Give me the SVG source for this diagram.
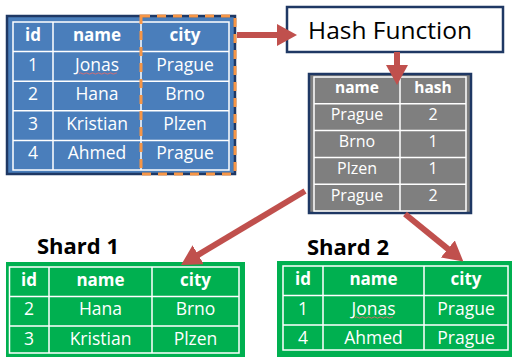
<svg xmlns="http://www.w3.org/2000/svg" width="512" height="358" viewBox="0 0 512 358">
  <defs>
    <marker id="arrowhead" markerUnits="userSpaceOnUse" markerWidth="20" markerHeight="22" refX="2" refY="11" orient="auto">
      <path d="M0,0 L20,11 L0,22 z" fill="#c0504d"/>
    </marker>
    <style>
      .grid { fill: none; stroke: #ffffff; stroke-width: 1.5; }
      .cell { font-family: "Open Sans", "Liberation Sans", sans-serif; font-size: 17.5px; fill: #ffffff; text-anchor: middle; }
      .head { font-family: "Open Sans", "Liberation Sans", sans-serif; font-size: 17px; font-weight: bold; fill: #ffffff; text-anchor: middle; }
      .small { font-size: 16px; }
      .smallhead { font-size: 15.5px; }
      .label { font-family: "Open Sans", "Liberation Sans", sans-serif; font-size: 22px; font-weight: bold; fill: #000000; }
      .squiggle { fill: none; stroke: #e06c6c; stroke-width: 0.9; }
      .link { stroke: #c0504d; stroke-width: 6; fill: none; marker-end: url(#arrowhead); }
    </style>
  </defs>

  <rect width="512" height="358" fill="#ffffff"/>

  <!-- source table: id / name / city -->
  <g id="source-table">
    <rect x="7" y="16" width="228" height="158" fill="#4a7ebb" stroke="#1f3864" stroke-width="2.5"/>
    <rect class="grid" x="13" y="22" width="216" height="148"/>
    <path class="grid" d="M53,22 V170 M141,22 V170 M13,51.6 H229 M13,81.2 H229 M13,110.8 H229 M13,140.4 H229"/>
    <!-- highlighted city column -->
    <rect x="141" y="16" width="94" height="158" fill="none" stroke="#f79646" stroke-width="3" stroke-dasharray="9 7"/>
    <text class="head" x="33" y="41">id</text>
    <text class="head" x="97" y="41">name</text>
    <text class="head" x="185" y="41">city</text>
    <text class="cell" x="33" y="70.6">1</text>
    <text class="cell" x="97" y="70.6">Jonas</text>
    <text class="cell" x="185" y="70.6">Prague</text>
    <text class="cell" x="33" y="100.2">2</text>
    <text class="cell" x="97" y="100.2">Hana</text>
    <text class="cell" x="185" y="100.2">Brno</text>
    <text class="cell" x="33" y="129.8">3</text>
    <text class="cell" x="97" y="129.8">Kristian</text>
    <text class="cell" x="185" y="129.8">Plzen</text>
    <text class="cell" x="33" y="159.4">4</text>
    <text class="cell" x="97" y="159.4">Ahmed</text>
    <text class="cell" x="185" y="159.4">Prague</text>
    <path class="squiggle" d="M79,73.5 q1.5,-1.2 3,0 t3,0 t3,0 t3,0 t3,0 t3,0 t3,0 t3,0 t3,0 t3,0 t3,0 t3,0 t2,0"/>
  </g>

  <!-- hash function box -->
  <g id="hash-function">
    <rect x="287" y="7" width="216" height="45" fill="#ffffff" stroke="#1f3864" stroke-width="2.5"/>
    <text x="390" y="38.5" font-family="'Open Sans', 'Liberation Sans', sans-serif" font-size="24.5" fill="#000000" text-anchor="middle">Hash Function</text>
  </g>

  <!-- hashed city values -->
  <g id="hash-table">
    <rect x="309" y="74" width="162" height="139" fill="#7f7f7f" stroke="#1f3864" stroke-width="2.5"/>
    <rect class="grid" x="314" y="77" width="152" height="134"/>
    <path class="grid" d="M400,77 V211 M314,103.8 H466 M314,130.6 H466 M314,157.4 H466 M314,184.2 H466"/>
    <text class="head smallhead" x="357" y="93.3">name</text>
    <text class="head smallhead" x="433" y="93.3">hash</text>
    <text class="cell small" x="357" y="120.3">Prague</text>
    <text class="cell small" x="433" y="120.3">2</text>
    <text class="cell small" x="357" y="147.1">Brno</text>
    <text class="cell small" x="433" y="147.1">1</text>
    <text class="cell small" x="357" y="173.9">Plzen</text>
    <text class="cell small" x="433" y="173.9">1</text>
    <text class="cell small" x="357" y="200.7">Prague</text>
    <text class="cell small" x="433" y="200.7">2</text>
  </g>

  <!-- shard 1 -->
  <g id="shard-1">
    <text class="label" x="37" y="254">Shard 1</text>
    <rect x="6" y="262" width="239" height="95" fill="#00b050"/>
    <rect class="grid" x="9.5" y="267" width="229.5" height="86"/>
    <path class="grid" d="M49,267 V353 M152,267 V353 M9.5,296.5 H239 M9.5,326 H239"/>
    <text class="head" x="29" y="285.5">id</text>
    <text class="head" x="100.5" y="285.5">name</text>
    <text class="head" x="195.5" y="285.5">city</text>
    <text class="cell" x="29" y="315">2</text>
    <text class="cell" x="100.5" y="315">Hana</text>
    <text class="cell" x="195.5" y="315">Brno</text>
    <text class="cell" x="29" y="344.5">3</text>
    <text class="cell" x="100.5" y="344.5">Kristian</text>
    <text class="cell" x="195.5" y="344.5">Plzen</text>
  </g>

  <!-- shard 2 -->
  <g id="shard-2">
    <text class="label" x="307" y="255">Shard 2</text>
    <rect x="277" y="261" width="240" height="96" fill="#00b050"/>
    <rect class="grid" x="283" y="266" width="225" height="84"/>
    <path class="grid" d="M323,266 V350 M424,266 V350 M283,295.5 H508 M283,325 H508"/>
    <text class="head" x="303" y="285">id</text>
    <text class="head" x="373.5" y="285">name</text>
    <text class="head" x="466" y="285">city</text>
    <text class="cell" x="303" y="314.5">1</text>
    <text class="cell" x="373.5" y="314.5">Jonas</text>
    <text class="cell" x="466" y="314.5">Prague</text>
    <text class="cell" x="303" y="344">4</text>
    <text class="cell" x="373.5" y="344">Ahmed</text>
    <text class="cell" x="466" y="344">Prague</text>
    <path class="squiggle" d="M355,317.5 q1.5,-1.2 3,0 t3,0 t3,0 t3,0 t3,0 t3,0 t3,0 t3,0 t3,0 t3,0 t3,0 t3,0 t2,0"/>
  </g>

  <!-- connectors -->
  <g id="connectors">
    <line class="link" x1="237" y1="35" x2="279" y2="35"/>
    <line class="link" x1="397" y1="52" x2="397" y2="67"/>
    <line class="link" x1="305" y1="191" x2="196.5" y2="255.8"/>
    <line class="link" x1="405" y1="214" x2="449.4" y2="250.2"/>
  </g>
</svg>
